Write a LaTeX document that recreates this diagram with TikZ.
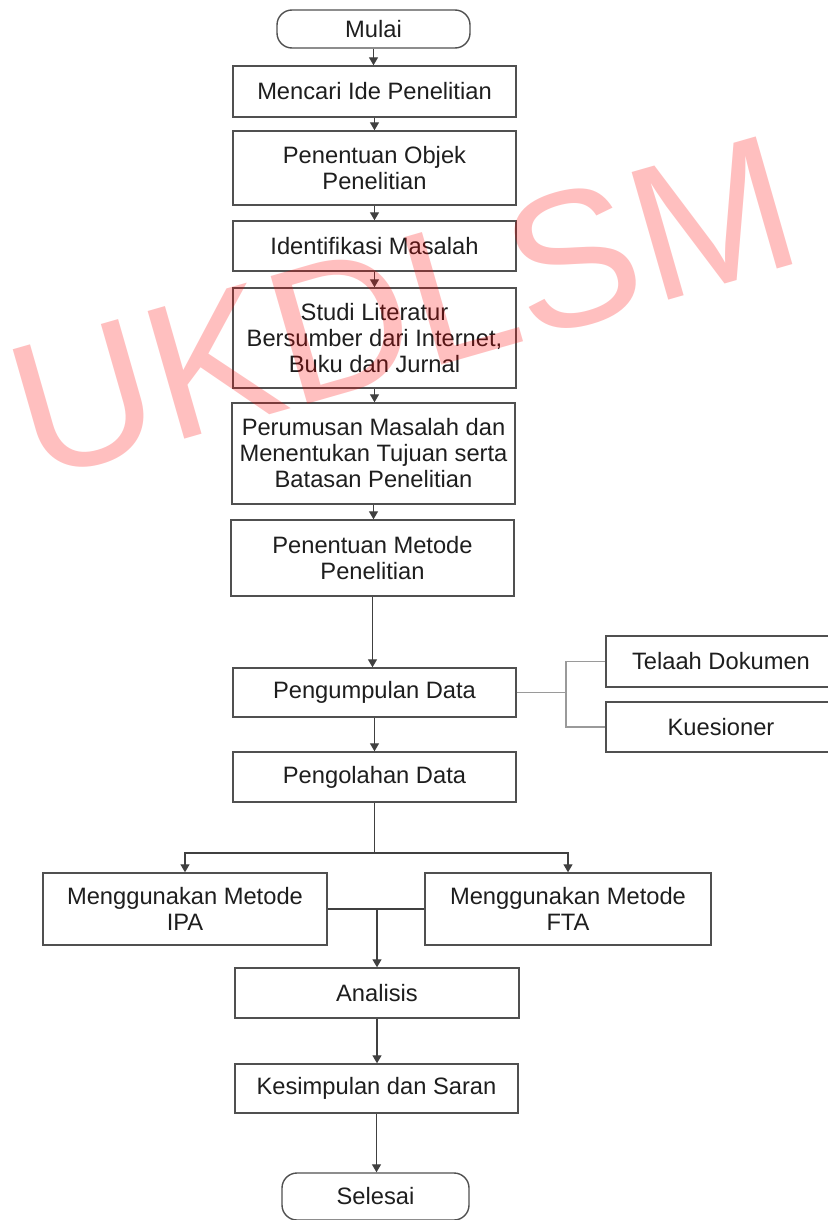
\documentclass[tikz,border=0pt]{standalone}
\usepackage{fontspec}
\setmainfont{Liberation Sans}
\newfontfamily\wmfont{Liberation Sans}
\usetikzlibrary{arrows.meta}
\definecolor{boxline}{HTML}{505050}
\definecolor{conline}{HTML}{404040}
\definecolor{txt}{HTML}{1E1E1E}
\definecolor{brline}{HTML}{9A9A9A}
\tikzset{
  box/.style={draw=boxline, line width=1.4pt, rectangle, inner sep=0pt, align=center, text=txt,
    font=\fontsize{23.7}{26}\selectfont},
  term/.style={box, rounded corners=15pt},
  arr/.style={draw=conline, line width=1.3pt, -{Triangle[length=8pt,width=9pt]}},
  con/.style={draw=conline, line width=1.3pt},
  brc/.style={draw=brline, line width=1.3pt},
}
\begin{document}
\begin{tikzpicture}[x=1pt,y=1pt]
\useasboundingbox (0,0) rectangle (827,-1220);
% nodes
\node[term, minimum width=193pt, minimum height=38pt] (mulai) at (373.5,-29) {Mulai};
\node[box, minimum width=283pt, minimum height=51pt] (mencari) at (374.5,-91.5) {Mencari Ide Penelitian};
\node[box, minimum width=283pt, minimum height=74pt] (objek) at (374.5,-168) {Penentuan Objek\\Penelitian};
\node[box, minimum width=283pt, minimum height=50pt] (ident) at (374.5,-246) {Identifikasi Masalah};
\node[box, minimum width=283pt, minimum height=100pt] (studi) at (374.5,-338) {Studi Literatur\\Bersumber dari Internet,\\Buku dan Jurnal};
\node[box, minimum width=283pt, minimum height=101pt] (rumus) at (373.5,-453.5) {Perumusan Masalah dan\\Menentukan Tujuan serta\\Batasan Penelitian};
\node[box, minimum width=283pt, minimum height=76pt] (metode) at (372.5,-558) {Penentuan Metode\\Penelitian};
\node[box, minimum width=283pt, minimum height=49pt] (kumpul) at (374.5,-692.5) {Pengumpulan Data};
\node[box, minimum width=230pt, minimum height=51pt] (telaah) at (721,-661.5) {Telaah Dokumen};
\node[box, minimum width=230pt, minimum height=50pt] (kues) at (721,-727) {Kuesioner};
\node[box, minimum width=283pt, minimum height=50pt] (olah) at (374.5,-777) {Pengolahan Data};
\node[box, minimum width=284pt, minimum height=72pt] (ipa) at (185,-909) {Menggunakan Metode\\IPA};
\node[box, minimum width=286pt, minimum height=72pt] (fta) at (568,-909) {Menggunakan Metode\\FTA};
\node[box, minimum width=284pt, minimum height=50pt] (anal) at (377,-993) {Analisis};
\node[box, minimum width=283pt, minimum height=49pt] (simpul) at (376.5,-1088.5) {Kesimpulan dan Saran};
\node[term, minimum width=187pt, minimum height=47pt] (selesai) at (375.5,-1196.5) {Selesai};
% main arrows
\draw[arr] (mulai.south) -- (mulai.south |- mencari.north);
\draw[arr] (mencari.south) -- (mencari.south |- objek.north);
\draw[arr] (objek.south) -- (objek.south |- ident.north);
\draw[arr] (ident.south) -- (ident.south |- studi.north);
\draw[arr] (studi.south) -- (studi.south |- rumus.north);
\draw[arr] (rumus.south) -- (rumus.south |- metode.north);
\draw[arr] (metode.south) -- (metode.south |- kumpul.north);
\draw[arr] (kumpul.south) -- (kumpul.south |- olah.north);
% split
\coordinate (split) at (375,-853);
\draw[con] (olah.south) -- (olah.south |- split);
\draw[arr] (split) -| (ipa.north);
\draw[arr] (split) -| (fta.north);
% merge
\coordinate (merge) at (anal.north |- ipa.east);
\draw[con] (ipa.east) -- (fta.west);
\draw[arr] (merge) -- (anal.north);
\draw[arr] (anal.south) -- (anal.south |- simpul.north);
\draw[arr] (simpul.south) -- (simpul.south |- selesai.north);
% bracket
\coordinate (bx) at (566,-692.5);
\draw[brc] (kumpul.east) -- (bx);
\draw[brc] (telaah.west) -| (bx) |- (kues.west);
% watermark
\node[anchor=base west, rotate=16, inner sep=0pt, text=red, text opacity=0.25,
  font=\wmfont\fontsize{193}{200}\selectfont] (wm) at (35,-482) {UKDLSM};
\end{tikzpicture}
\end{document}
